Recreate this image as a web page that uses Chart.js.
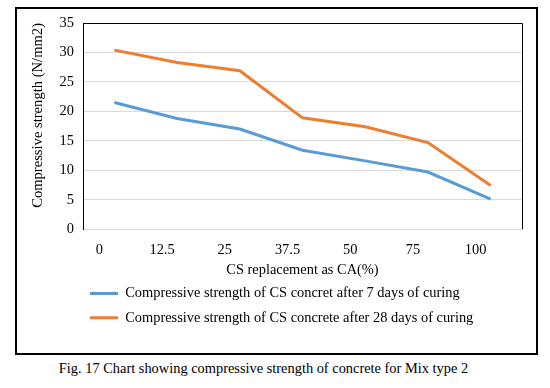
<!DOCTYPE html>
<html lang="en">
<head>
    <meta charset="UTF-8">
    <script src="https://cdn.jsdelivr.net/npm/chart.js"></script>
    <title>Mix type 2</title>
    <style>
        body { margin: 0; background: #fff; }
        #frame {
            position: absolute; left: 15px; top: 7px;
            width: 523px; height: 348px;
            border: 2px solid #000; box-sizing: border-box;
        }
        #wrap { position: absolute; left: 0; top: 0; width: 519px; height: 344px; }
        #caption {
            position: absolute; left: 0; top: 360px; width: 527px;
            text-align: center; font-family: "Liberation Serif", serif;
            font-size: 14.4px; color: #000;
        }
    </style>
</head>
<body>
    <div id="frame">
      <div id="wrap"><canvas id="myChart"></canvas></div>
    </div>
    <div id="caption">Fig. 17 Chart showing compressive strength of concrete for Mix type 2</div>
    <script>
        const replacement = ['0', '12.5', '25', '37.5', '50', '75', '100']
        const days7 = [21.5, 18.8, 17.0, 13.4, 11.6, 9.7, 5.1]
        const days28 = [30.4, 28.3, 26.9, 18.9, 17.4, 14.7, 7.4]
        const seriesNames = [
            'Compressive strength of CS concret after 7 days of curing',
            'Compressive strength of CS concrete after 28 days of curing'
        ]

        const serif = "'Liberation Serif', 'Times New Roman', serif"

        // top and right edges of the plot box
        const boxEdges = {
            id: 'boxEdges',
            afterDraw(chart) {
                const a = chart.chartArea
                const c = chart.ctx
                c.save()
                c.strokeStyle = '#000'
                c.lineWidth = 1
                c.beginPath()
                c.moveTo(a.left, a.top + 0.5)
                c.lineTo(a.right + 0.5, a.top + 0.5)
                c.lineTo(a.right + 0.5, a.bottom)
                c.stroke()
                c.restore()
            }
        }

        // legend rows start-aligned a bit right of the canvas edge
        const legendShift = {
            id: 'legendShift',
            afterLayout(chart) {
                if (chart.legend) chart.legend.left = 63
            }
        }

        const ctx = document.getElementById('myChart');
        new Chart(ctx, {
            type: 'line',
            data: {
                labels: replacement,
                datasets: [{
                    label: seriesNames[0],
                    data: days7,
                    borderColor: '#5B9BD5',
                    backgroundColor: '#5B9BD5',
                    borderWidth: 3,
                    pointRadius: 0,
                    tension: 0
                }, {
                    label: seriesNames[1],
                    data: days28,
                    borderColor: '#ED7D31',
                    backgroundColor: '#ED7D31',
                    borderWidth: 3,
                    pointRadius: 0,
                    tension: 0
                }]
            },
            options: {
                responsive: true,
                maintainAspectRatio: false,
                animation: false,
                layout: { padding: { top: 14, right: 14, bottom: 18, left: 0 } },
                plugins: {
                    legend: {
                        position: 'bottom',
                        align: 'start',
                        labels: {
                            color: '#000',
                            font: { family: serif, size: 14.4 },
                            boxWidth: 28,
                            boxHeight: 0,
                            padding: 10
                        }
                    },
                    tooltip: { enabled: false }
                },
                scales: {
                    x: {
                        offset: true,
                        grid: { display: false, drawTicks: false },
                        border: { color: '#D9D9D9' },
                        ticks: {
                            color: '#000',
                            font: { family: serif, size: 14.4 },
                            padding: 12,
                            labelOffset: -15,
                            maxRotation: 0
                        },
                        title: {
                            display: true,
                            text: 'CS replacement as CA(%)',
                            color: '#000',
                            font: { family: serif, size: 14.4 },
                            padding: { top: 0, bottom: -3 }
                        },
                        afterFit(s) { s.height = 47 }
                    },
                    y: {
                        min: 0,
                        max: 35,
                        ticks: {
                            stepSize: 5,
                            color: '#000',
                            font: { family: serif, size: 14.4 },
                            padding: 9
                        },
                        grid: { color: '#D9D9D9', drawTicks: false },
                        border: { color: '#000' },
                        title: {
                            display: true,
                            text: 'Compressive strength (N/mm2)',
                            align: 'end',
                            color: '#000',
                            font: { family: serif, size: 14.6 },
                            padding: { top: 12, bottom: 0 }
                        },
                        afterFit(s) {
                            s.width = 66
                            s.paddingTop = 0
                            s.paddingBottom = 0
                        }
                    }
                }
            },
            plugins: [boxEdges, legendShift]
        });
    </script>
</body>
</html>
